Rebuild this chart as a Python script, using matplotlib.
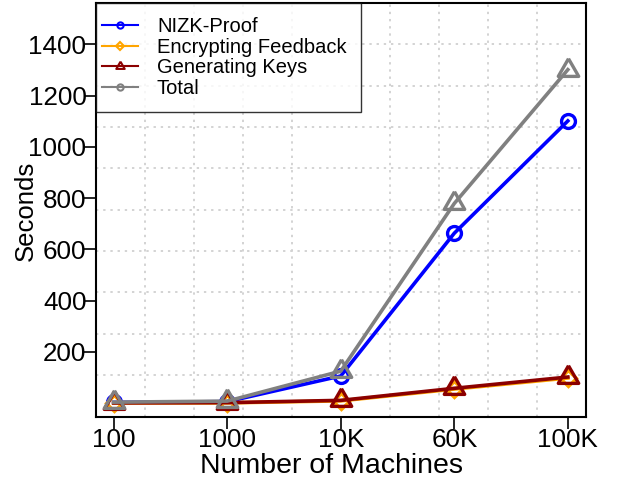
import numpy as np
import matplotlib
matplotlib.use("Agg")
import matplotlib.pyplot as plt
from matplotlib.lines import Line2D
from matplotlib.legend_handler import HandlerLine2D

plt.rcParams['font.family'] = ['Liberation Sans', 'DejaVu Sans']

categories = ["100", "1000", "10K", "60K", "100K"]
nizk = [3, 6, 106, 663, 1101]
encrypt = [1, 1, 9, 55, 98]
keys = [1, 2, 11, 58, 102]
total = [4, 8, 125, 779, 1301]
yticks = [200, 400, 600, 800, 1000, 1200, 1400]

c_blue = "#0000FF"
c_orange = "#FFA500"
c_red = "#8B0000"
c_gray = "#808080"

tri = [(0, 1), (-0.866, -0.5), (0.866, -0.5), (0, 1)]

fig = plt.figure(figsize=(6.27, 4.79), dpi=100)
ax = fig.add_axes([95.5/627, 1-416.5/479, (586-95.5)/627, (416.5-3)/479])

x = np.arange(1, len(categories)+1)
xlim = (0.84, 5.16)
ylim = (-52, 1561)
ax.set_xlim(*xlim)
ax.set_ylim(*ylim)

# grid: equal divisions like R grid(10, 10)
ax.set_xticks(np.linspace(xlim[0], xlim[1], 11)[1:-1], minor=True)
ax.set_yticks(np.linspace(ylim[0], ylim[1], 11)[1:-1], minor=True)
ax.grid(which='minor', color='#D3D3D3', linestyle=(0, (1.2, 2.5)), linewidth=1.4)
ax.tick_params(which='minor', length=0)

lw = 2.6
ax.plot(x, nizk, color=c_blue, lw=lw, marker='o', ms=10, mew=2.4, mfc='none', zorder=3)
ax.plot(x, encrypt, color=c_orange, lw=lw, marker='D', ms=8, mew=2.4, mfc='none', zorder=3)
ax.plot(x, keys, color=c_red, lw=lw, marker=tri, ms=17, mew=2.4, mfc='none', zorder=4)
ax.plot(x, total, color=c_gray, lw=lw, marker=tri, ms=17, mew=2.4, mfc='none', zorder=5)

ax.set_xticks(x)
ax.set_xticklabels(categories)
ax.set_yticks(yticks)
ax.set_yticklabels([str(v) for v in yticks])
ax.tick_params(axis='both', which='major', labelsize=18.7, length=8.5, width=1.2, direction='out', color='black')
ax.tick_params(axis='y', pad=-2)
ax.tick_params(axis='x', pad=0)

ax.set_xlabel("Number of Machines", fontsize=20.5)
ax.xaxis.set_label_coords((332-95.5)/490.5, (416.5-473)/413.5, transform=ax.transAxes)
ax.xaxis.label.set_va('baseline')
ax.set_ylabel("Seconds", fontsize=18.5)
ax.yaxis.set_label_coords((26-95.5)/490.5, (416.5-210.5)/413.5, transform=ax.transAxes)
ax.yaxis.label.set_va('center')

for s in ax.spines.values():
    s.set_linewidth(1.5)
    s.set_color('black')

handles = [
    Line2D([], [], color=c_blue, lw=1.5, marker='o', ms=4.5, mew=1.5, mfc='none'),
    Line2D([], [], color=c_orange, lw=1.5, marker='D', ms=4, mew=1.5, mfc='none'),
    Line2D([], [], color=c_red, lw=1.5, marker=tri, ms=7, mew=1.5, mfc='none'),
    Line2D([], [], color=c_gray, lw=1.5, marker='o', ms=4.5, mew=1.5, mfc='none'),
]
labels = ["NIZK-Proof", "Encrypting Feedback", "Generating Keys", "Total"]
hmap = {h: HandlerLine2D(xpad=-0.4) for h in handles}
leg = ax.legend(handles, labels, loc='upper left', bbox_to_anchor=(0, 1), borderaxespad=0,
                fontsize=14.5, frameon=True, fancybox=False, edgecolor='black',
                handlelength=1.4, handletextpad=0.95, labelspacing=0.08,
                borderpad=0.7, handler_map=hmap)
leg.get_frame().set_linewidth(1.0)
leg.set_zorder(10)

fig.savefig("out.png", dpi=100)
